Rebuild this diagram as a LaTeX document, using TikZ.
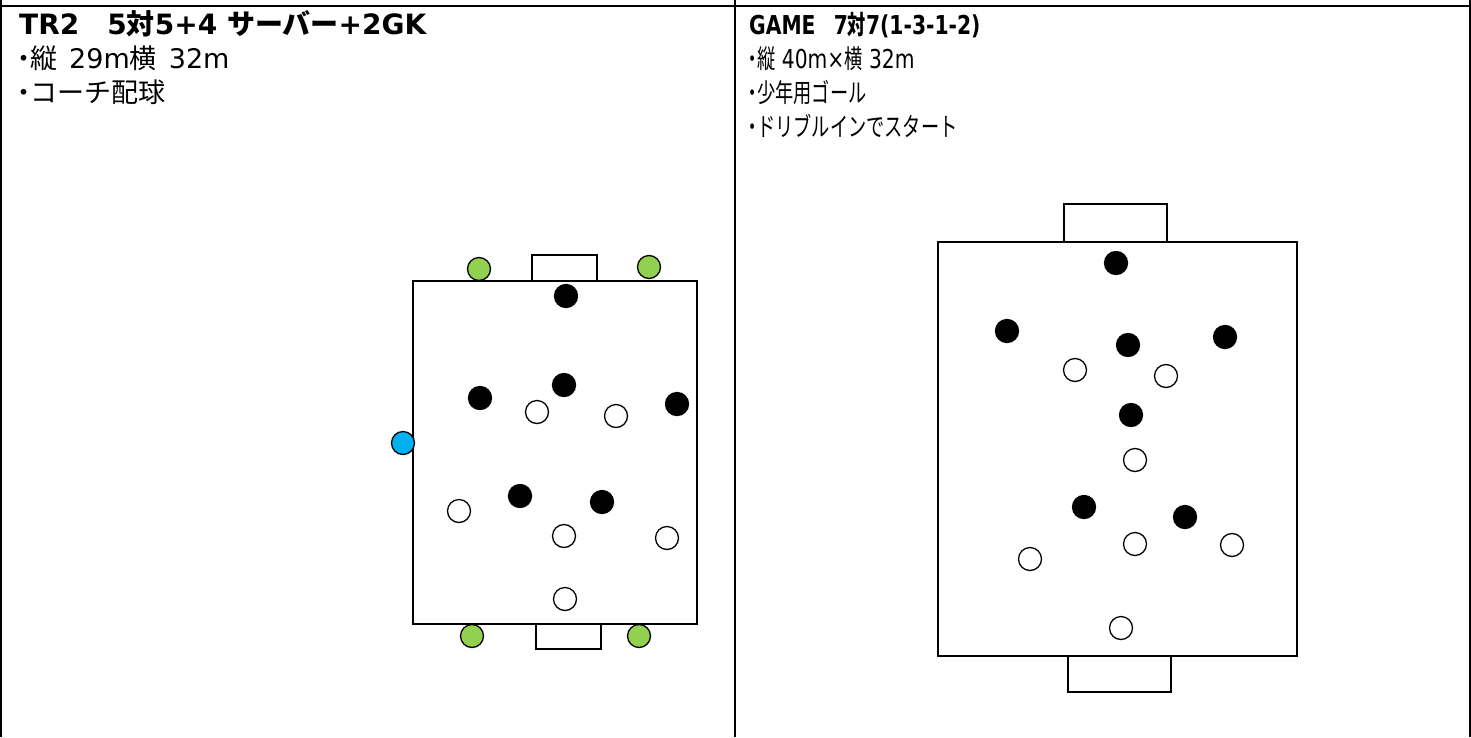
\documentclass[tikz,border=0pt]{standalone}
\usepackage{fontspec}
\setmainfont{DejaVu Sans}
\newfontfamily\jpfam{Noto Sans CJK JP}
\newfontfamily\latnarrow{DejaVu Sans}[FakeStretch=0.78]
\newfontfamily\jpnarrow{Noto Sans CJK JP}[FakeStretch=0.7]
\newcommand\jp[1]{{\jpfam #1}}
\newcommand\jpn[1]{{\jpnarrow #1}}
\newcommand\bul{\makebox[12pt]{\jp{・}}}
\newcommand\buln{\makebox[9pt]{\jpn{・}}}
\usetikzlibrary{positioning}
\definecolor{servgreen}{HTML}{92D050}
\definecolor{coachblue}{HTML}{00B0F0}
\tikzset{
  frame/.style={line width=2.2pt},
  pitch/.style={draw, line width=2pt},
  goal/.style={draw, line width=2pt, fill=white},
  player/.style={circle, draw, line width=1.3pt, minimum size=23pt, inner sep=0pt},
  blk/.style={player, fill=black},
  wht/.style={player, fill=white},
  srv/.style={player, fill=servgreen},
  coach/.style={player, fill=coachblue},
  txt/.style={anchor=base west, inner sep=0pt, font=\fontsize{27}{30}\selectfont},
  ttl/.style={txt, font=\fontsize{28}{30}\selectfont\bfseries},
  ntxt/.style={txt, font=\fontsize{26}{30}\selectfont\latnarrow},
  nttl/.style={txt, font=\fontsize{26}{30}\selectfont\latnarrow\bfseries}}

\begin{document}
\begin{tikzpicture}[x=1pt, y=-1pt]
  \useasboundingbox (0,0) rectangle (1471,737);
  % table
  \draw[frame] (1,0) -- (1,737);
  \draw[frame] (735,0) -- (735,737);
  \draw[frame] (1470,0) -- (1470,737);
  \draw[frame] (0,6) -- (1471,6);
  % left cell: TR2
  \node[ttl] (trtitle) at (19,34) {TR2\jp{　}5\jp{対}5+4 \jp{サーバー}+2GK};
  \node[txt] (trsize) at (18,68) {\bul\jp{縦}\hspace{12pt}29m\jp{横}\hspace{12pt}32m};
  \node[txt] (trball) at (18,102) {\bul\jp{コーチ配球}};
  \draw[pitch] (413,281) rectangle (697,624);
  \draw[goal] (532,255) rectangle (597,281);
  \draw[goal] (536,624) rectangle (601,649);
  \foreach \x/\y [count=\i] in {479/269, 649/267, 472/636, 639/636}
    \node[srv] (trsrv\i) at (\x,\y) {};
  \node[coach] (trcoach) at (403,443) {};
  \foreach \x/\y [count=\i] in {566/296, 564/385, 480/398, 677/404, 520/496, 602/502}
    \node[blk] (trblk\i) at (\x,\y) {};
  \foreach \x/\y [count=\i] in {537/412, 616/416, 459/511, 564/536, 667/538, 565/599}
    \node[wht] (trwht\i) at (\x,\y) {};
  % right cell: GAME
  \node[nttl] (gmtitle) at (749,34) {GAME\jpn{　}7\jpn{対}7(1-3-1-2)};
  \node[ntxt] (gmsize) at (748,68) {\buln\jpn{縦} 40m×\jpn{横} 32m};
  \node[ntxt] (gmgoal) at (748,102) {\buln\jpn{少年用ゴール}};
  \node[ntxt] (gmstart) at (748,136) {\buln\jpn{ドリブルインでスタート}};
  \draw[pitch] (938,242) rectangle (1297,656);
  \draw[goal] (1064,204) rectangle (1167,242);
  \draw[goal] (1068,656) rectangle (1171,692);
  \foreach \x/\y [count=\i] in {1116/263, 1007/331, 1128/345, 1225/337, 1131/415, 1084/507, 1185/517}
    \node[blk] (gmblk\i) at (\x,\y) {};
  \foreach \x/\y [count=\i] in {1075/370, 1166/376, 1135/460, 1135/544, 1232/545, 1030/559, 1121/628}
    \node[wht] (gmwht\i) at (\x,\y) {};
\end{tikzpicture}
\end{document}
